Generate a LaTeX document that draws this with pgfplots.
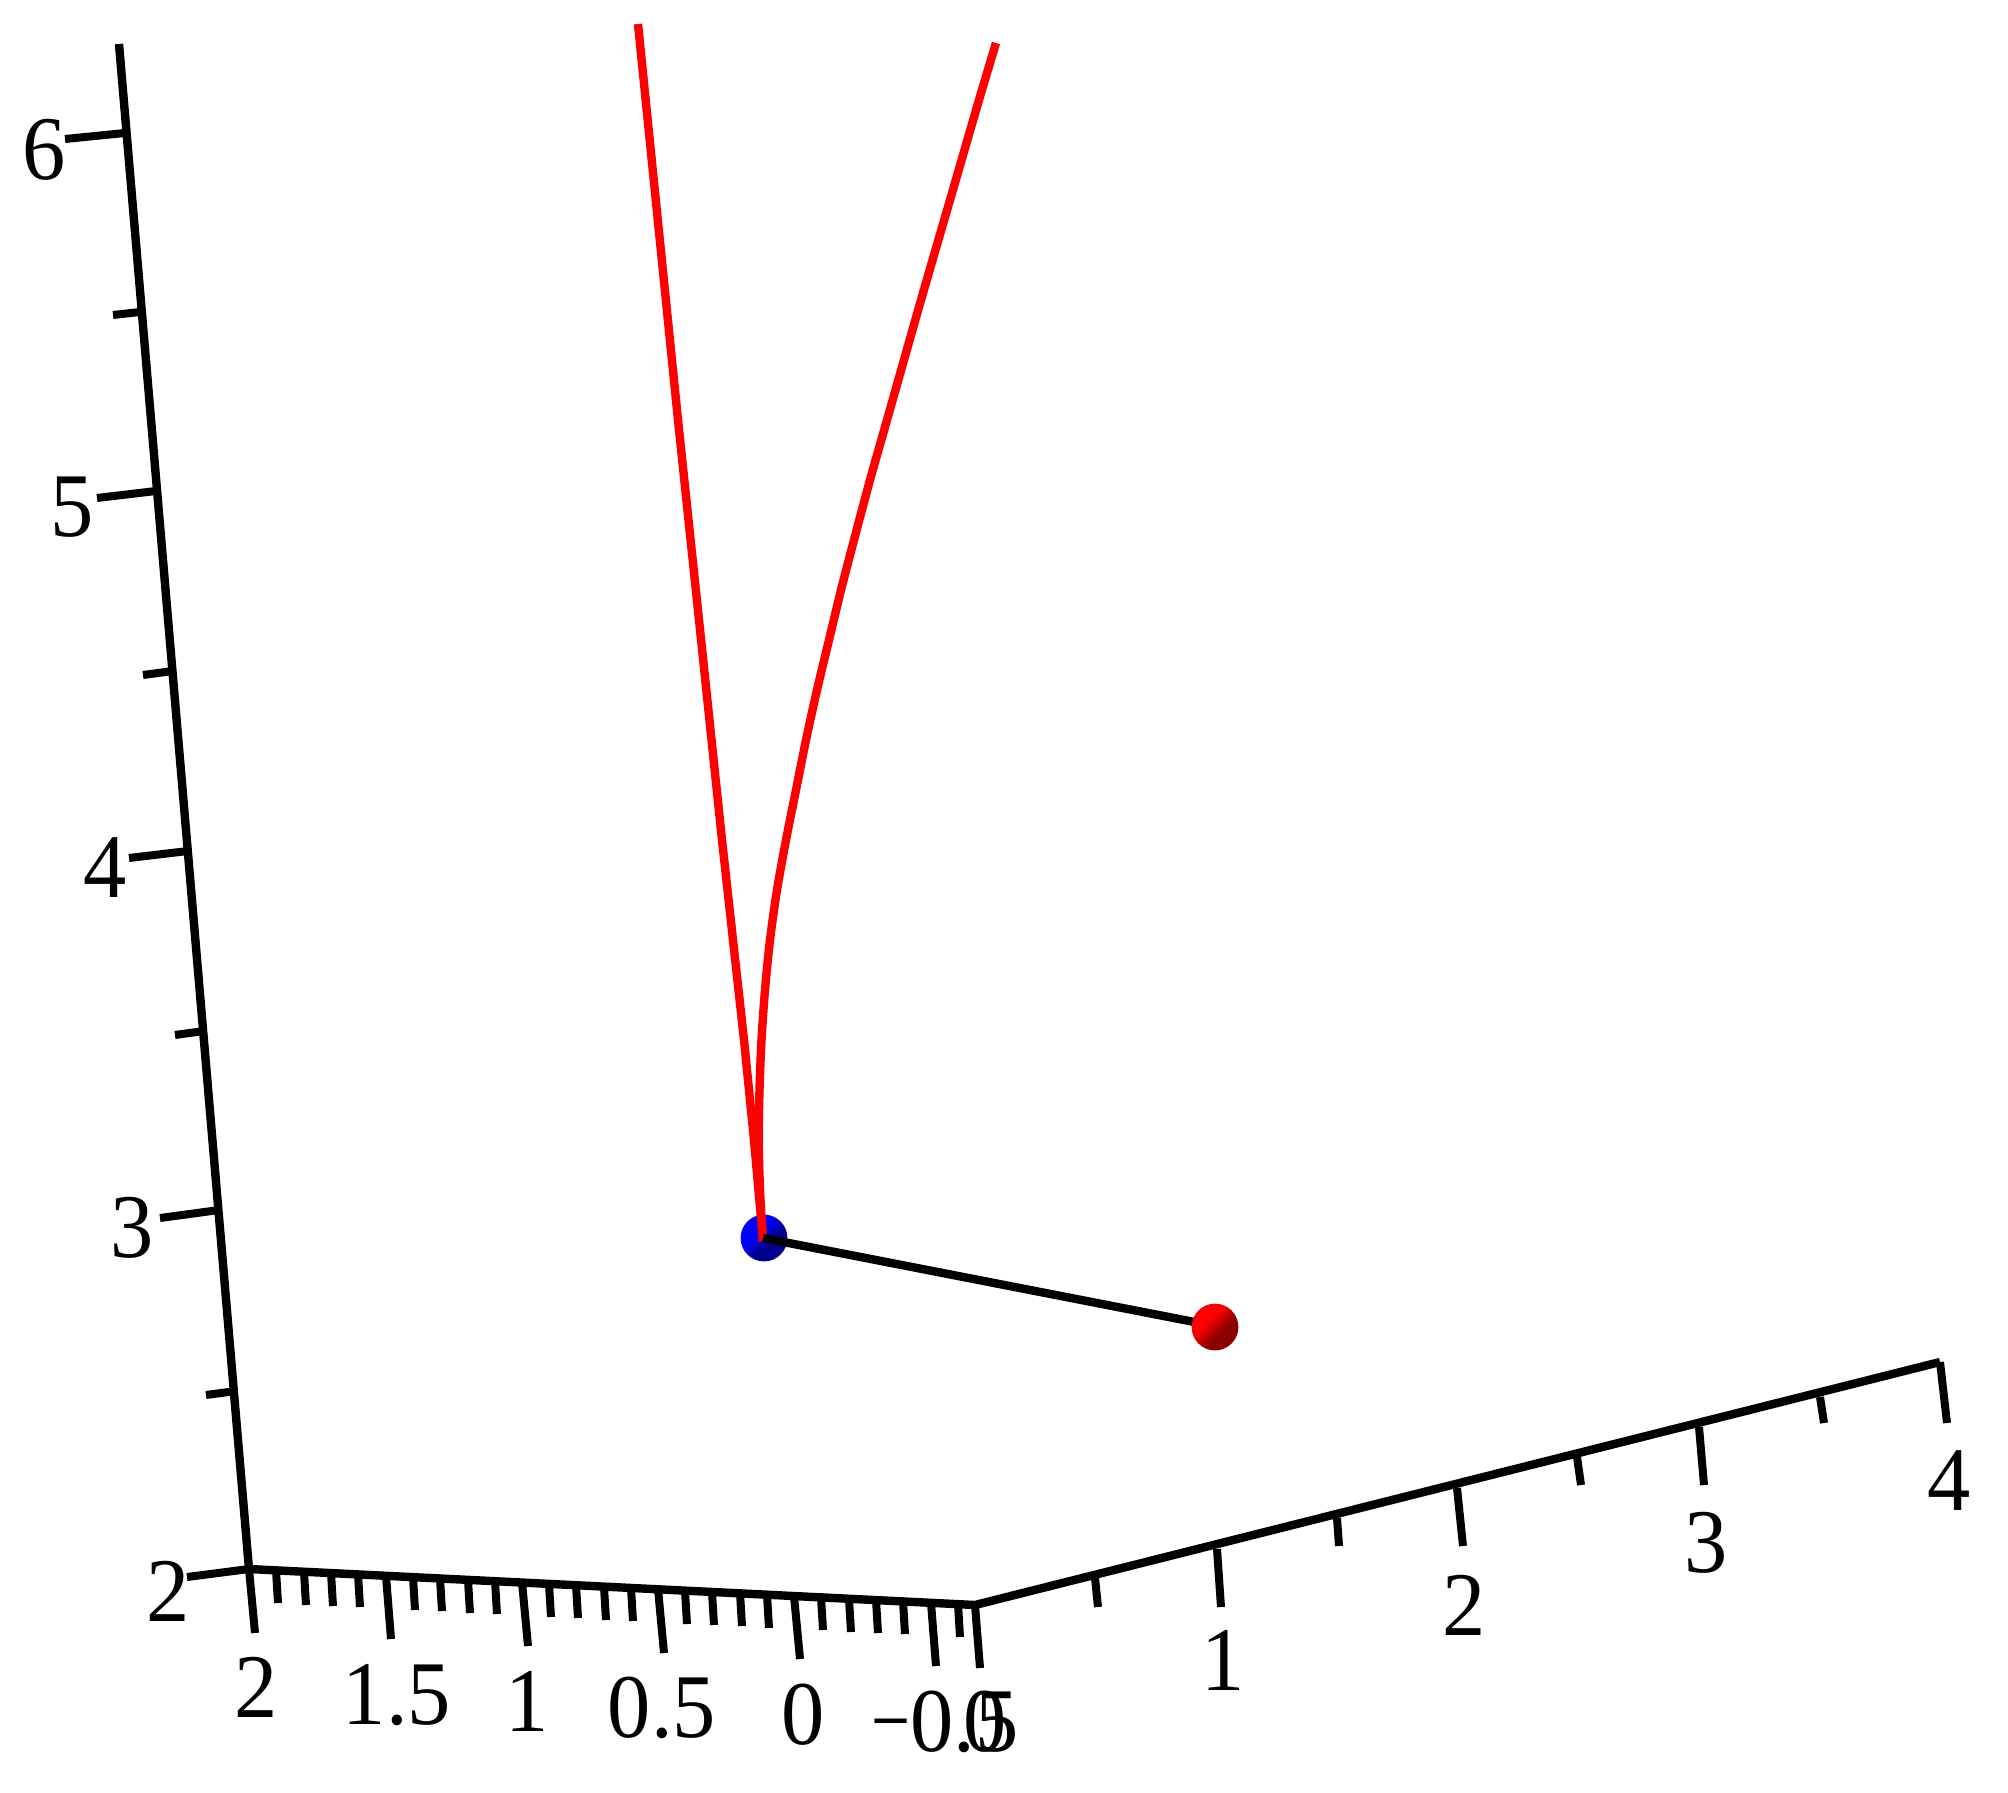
\documentclass[border=0pt]{standalone}
\usepackage{fontspec}
\setmainfont{Liberation Serif}
\usepackage{pgfplots}
\pgfplotsset{compat=1.18}
\pgfdeclarehorizontalshading{ballblue}{100bp}{color(0bp)=(blue); color(40bp)=(blue); color(58bp)=(blue!55!black); color(100bp)=(blue!55!black)}
\pgfdeclarehorizontalshading{ballred}{100bp}{color(0bp)=(red); color(40bp)=(red); color(58bp)=(red!55!black); color(100bp)=(red!55!black)}
\pgfdeclareplotmark{ballblue}{\pgfpathcircle{\pgfpointorigin}{\pgfplotmarksize}\pgfshadepath{ballblue}{-45}\pgfusepath{discard}}
\pgfdeclareplotmark{ballred}{\pgfpathcircle{\pgfpointorigin}{\pgfplotmarksize}\pgfshadepath{ballred}{-45}\pgfusepath{discard}}
\newcommand{\lab}[3]{\node[inner sep=0pt,anchor=center,font=\fontsize{45.5}{45.5}\selectfont] at (axis cs:#1,#2) {\scalebox{0.95}[1]{#3}};}
\begin{document}
\begin{tikzpicture}
\begin{axis}[
  scale only axis, width=1004pt, height=896.5pt,
  xmin=0, xmax=2008, ymin=0, ymax=1793, y dir=reverse,
  hide axis, clip=false, clip mode=individual, unbounded coords=jump,
]
\addplot[draw=none] coordinates {(0,0) (2008,1793)};
% spheres under the lines
\addplot[only marks, mark=ballblue, mark size=11.7pt] coordinates {(764,1238)};
% red curve
\addplot[red, line width=4.2pt] table {
x y
638 24
678 420
699 620
722 840
744 1040
754 1140
763 1241
};
\addplot[red, line width=4.2pt, smooth, tension=0.5] table {
x y
763 1241
760 1190
758.7 1140
759.5 1090
761.5 1040
765 990
770 940
777 890
786 840
796 790
806 740
817 690
829 640
841 590
854 540
870 480
887 420
921 300
950 200
979 100
996 43
};
% segment
\addplot[black, line width=4.2pt] coordinates {(763,1238) (1215,1326)};
\addplot[only marks, mark=ballred, mark size=11.7pt] coordinates {(1215,1327)};
% axes lines
\addplot[black, line width=4.2pt, line join=miter] coordinates {(119,44) (249,1569) (975,1605) (1940,1362)};
% major and minor ticks
\addplot[black, line width=4pt] table {
x y
125 133
65 139
nan nan
156 491
97 498
nan nan
188 851
129 858
nan nan
219 1210
160 1218
nan nan
249 1569
187 1577
nan nan
140 312
113 315
nan nan
173 671
143 675
nan nan
204 1031
175 1035
nan nan
236 1391
206 1395
nan nan
249 1569
255 1633
nan nan
386 1576
391 1639
nan nan
522 1582
528 1646
nan nan
658 1589
664 1653
nan nan
794 1596
800 1659
nan nan
931 1603
936 1666
nan nan
975 1605
980 1668
nan nan
1217 1549
1221 1607
nan nan
1457 1488
1463 1546
nan nan
1699 1427
1704 1485
nan nan
1940 1362
1947 1423
nan nan
276 1570
278 1603
nan nan
304 1572
306 1605
nan nan
331 1573
333 1606
nan nan
358 1574
360 1607
nan nan
413 1577
415 1610
nan nan
440 1578
442 1611
nan nan
468 1580
470 1613
nan nan
495 1581
497 1614
nan nan
549 1584
551 1617
nan nan
576 1585
578 1618
nan nan
604 1587
606 1620
nan nan
631 1588
633 1621
nan nan
685 1591
687 1624
nan nan
712 1592
714 1625
nan nan
740 1593
742 1626
nan nan
767 1595
769 1628
nan nan
821 1597
823 1630
nan nan
849 1599
851 1632
nan nan
876 1600
878 1633
nan nan
903 1601
905 1634
nan nan
958 1604
960 1637
nan nan
1095 1578
1098 1607
nan nan
1337 1518
1339 1546
nan nan
1577 1457
1581 1485
nan nan
1820 1397
1824 1423
};
% z labels
\lab{44}{150}{6}
\lab{72}{507}{5}
\lab{105}{868}{4}
\lab{132}{1228}{3}
\lab{168}{1591}{2}
% x labels
\lab{256}{1687}{2}
\lab{397}{1695}{1.5}
\lab{527}{1701}{1}
\lab{662}{1708}{0.5}
\lab{803}{1715}{0}
\lab{945}{1722}{\scalebox{0.8}[1]{\char"2212}0.5}
\lab{985}{1722}{0}
% y labels
\lab{1223}{1660}{1}
\lab{1464}{1605}{2}
\lab{1706}{1543}{3}
\lab{1949}{1481}{4}
\end{axis}
\end{tikzpicture}
\end{document}
